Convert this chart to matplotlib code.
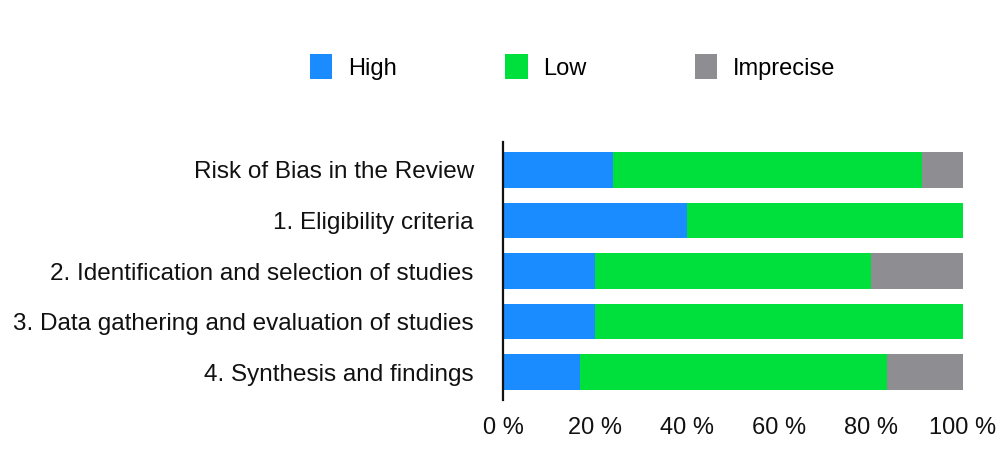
import matplotlib
matplotlib.use("Agg")
import matplotlib.pyplot as plt
import numpy as np

categories = [
    "Risk of Bias in the Review",
    "1. Eligibility criteria",
    "2. Identification and selection of studies",
    "3. Data gathering and evaluation of studies",
    "4. Synthesis and findings",
]
high = [24.0, 40.0, 20.0, 20.0, 16.7]
low = [67.0, 60.0, 60.0, 80.0, 66.7]
imprecise = [9.0, 0.0, 20.0, 0.0, 16.6]
series_names = ["High", "Low", "Imprecise"]
colors = ["#1a8cff", "#00e03c", "#8e8e92"]
xticks = [0, 20, 40, 60, 80, 100]
xtick_labels = ["0 %", "20 %", "40 %", "60 %", "80 %", "100 %"]

plt.rcParams['font.family'] = ['Liberation Sans', 'DejaVu Sans']

fig = plt.figure(figsize=(10.01, 4.70), dpi=100)
ax = fig.add_axes([503 / 1001, 1 - 400 / 470, 460 / 1001, 258 / 470])

y = np.arange(len(categories))
left = np.zeros(len(categories))
for name, vals, c in zip(series_names, [high, low, imprecise], colors):
    vals = np.array(vals)
    ax.barh(y, vals, left=left, height=0.7, color=c, label=name, edgecolor='none')
    left += vals

ax.set_ylim(len(categories) - 0.45, -0.55)
ax.set_xlim(0, 100)
ax.set_yticks(y)
ax.set_yticklabels(categories, fontsize=17.5, color="#111111")
ax.set_xticks(xticks)
ax.set_xticklabels(xtick_labels, fontsize=17, color="#111111")
ax.tick_params(axis='y', length=0, pad=21)
ax.tick_params(axis='x', length=0, pad=12)
for s in ['top', 'right', 'bottom']:
    ax.spines[s].set_visible(False)
ax.spines['left'].set_linewidth(1.6)
ax.spines['left'].set_color('#111111')

fig.legend(loc='center left', bbox_to_anchor=(310 / 1001, 1 - 67 / 470),
           ncol=3, frameon=False, fontsize=17, borderpad=0, borderaxespad=0,
           handlelength=0.95, handleheight=1.25, handletextpad=0.65,
           columnspacing=4.6)

fig.savefig("out.png", dpi=100, facecolor='white')
